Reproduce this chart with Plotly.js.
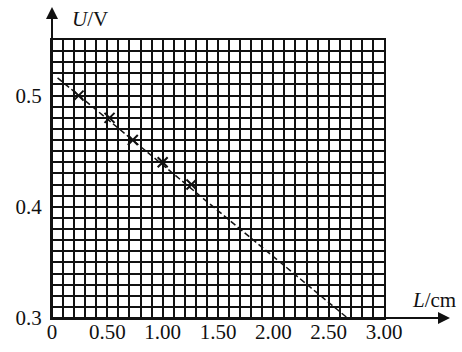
<!DOCTYPE html>
<html>
<head>
<meta charset="utf-8">
<script src="https://cdn.plot.ly/plotly-3.0.1.min.js"></script>
<style>html,body{margin:0;padding:0;background:#fff;}#chart{width:462px;height:352px;}</style>
</head>
<body>
<div id="chart"></div>
<script>
// Data
var pointsL = [0.24, 0.52, 0.73, 1.00, 1.26];
var pointsU = [0.500, 0.480, 0.460, 0.440, 0.420];
var fitL = [0.05, 2.67];
var fitU = [0.516, 0.300];
var xTickVals = [0, 0.5, 1.0, 1.5, 2.0, 2.5, 3.0];
var xTickText = ['0', '0.50', '1.00', '1.50', '2.00', '2.50', '3.00'];
var yTickVals = [0.3, 0.4, 0.5];
var yTickText = ['0.3', '0.4', '0.5'];

var ink = '#111111';
var font = {family: '"Liberation Serif", "Times New Roman", serif', size: 21, color: ink};

var traces = [
  {x: fitL, y: fitU, mode: 'lines', line: {color: ink, width: 1.5, dash: '6px,3px'}, hoverinfo: 'skip'},
  {x: pointsL, y: pointsU, mode: 'markers', marker: {symbol: 'x-thin', size: 10, line: {color: ink, width: 2}}, hoverinfo: 'skip'}
];

var gridStyle = {showgrid: true, gridcolor: ink, gridwidth: 2};

var layout = {
  width: 462, height: 352,
  margin: {l: 52, r: 12, t: 7, b: 34, pad: 0},
  paper_bgcolor: '#fff', plot_bgcolor: '#fff',
  showlegend: false,
  font: font,
  xaxis: Object.assign({
    range: [0, 3], domain: [0, 332/398],
    tickmode: 'array', tickvals: xTickVals, ticktext: xTickText,
    ticks: '', tickfont: font, ticklabelstandoff: -6,
    showline: true, mirror: true, linecolor: ink, linewidth: 2, zeroline: false,
    minor: {dtick: 0.1, tick0: 0, showgrid: true, gridcolor: ink, gridwidth: 2, ticks: ''}
  }, gridStyle),
  yaxis: Object.assign({
    range: [0.3, 0.55], domain: [0, 278/311],
    tickmode: 'array', tickvals: yTickVals, ticktext: yTickText,
    ticks: '', tickfont: font, ticklabelstandoff: 4,
    showline: true, mirror: true, linecolor: ink, linewidth: 2, zeroline: false,
    minor: {dtick: 0.01, tick0: 0.3, showgrid: true, gridcolor: ink, gridwidth: 2, ticks: ''}
  }, gridStyle),
  shapes: [
    {type: 'line', xref: 'paper', yref: 'paper', x0: 0, y0: 0, x1: 0.99, y1: 0, line: {color: ink, width: 2}},
    {type: 'line', xref: 'paper', yref: 'paper', x0: 0, y0: 0, x1: 0, y1: 0.99, line: {color: ink, width: 2}}
  ],
  annotations: [
    {xref: 'paper', yref: 'paper', x: 1.0, y: 0, ax: -14, ay: 0, text: '', showarrow: true, arrowhead: 2, arrowsize: 1.2, arrowwidth: 2, arrowcolor: ink},
    {xref: 'paper', yref: 'paper', x: 0, y: 1.0, ax: 0, ay: 14, text: '', showarrow: true, arrowhead: 2, arrowsize: 1.2, arrowwidth: 2, arrowcolor: ink},
    {xref: 'paper', yref: 'paper', x: 18/398, y: (318-19)/311, xanchor: 'left', yanchor: 'middle', text: '<i>U</i>/V', showarrow: false, font: font},
    {xref: 'paper', yref: 'paper', x: 1.02, y: (318-300)/311, xanchor: 'right', yanchor: 'middle', text: '<i>L</i>/cm', showarrow: false, font: font}
  ]
};

Plotly.newPlot('chart', traces, layout, {staticPlot: true, displayModeBar: false});
</script>
</body>
</html>
